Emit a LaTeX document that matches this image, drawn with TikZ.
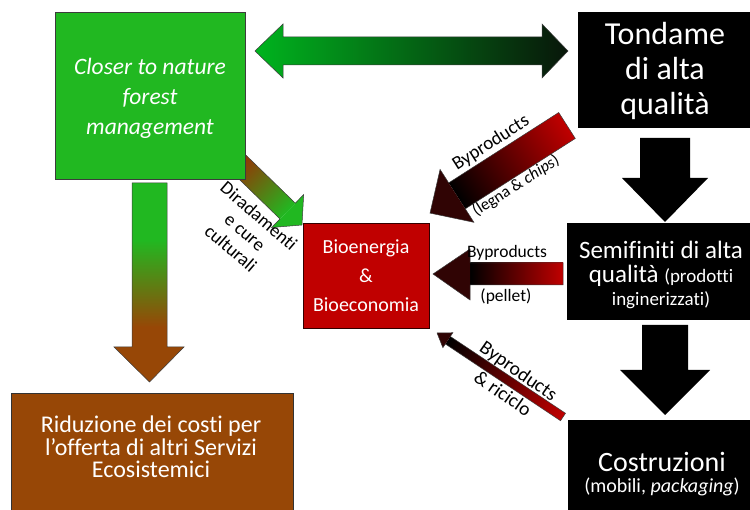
\documentclass[tikz,border=0pt]{standalone}
\usepackage{fontspec}
\setmainfont{Carlito}[Ligatures=NoCommon]
\definecolor{greenc}{RGB}{33,184,33}
\definecolor{brownc}{RGB}{151,71,6}
\definecolor{redc}{RGB}{192,0,0}
\definecolor{headred}{RGB}{48,4,4}
\definecolor{dirred}{RGB}{170,30,0}
\definecolor{dblgreen}{RGB}{0,180,30}
\definecolor{dblmid}{RGB}{0,110,10}
\definecolor{dbldark}{RGB}{8,22,10}
\definecolor{edgec}{RGB}{60,60,60}
\pgfdeclareverticalshading{greenbrown}{100bp}{color(0bp)=(brownc); color(38.8bp)=(brownc); color(60.7bp)=(greenc); color(100bp)=(greenc)}
\begin{document}
\begin{tikzpicture}[x=1pt,y=-1pt,
  boxs/.style={inner sep=0pt, outer sep=0pt, line width=0.6pt},
  wlbl/.style={inner sep=0pt, align=center, text=white},
  alabel/.style={inner sep=0pt, align=center, text=black},
  aedge/.style={draw=edgec, line width=0.5pt},
]
\useasboundingbox (0,0) rectangle (750,510);

% Diradamenti arrow (under the green box)
\coordinate (dtail) at (230,155);
\begin{scope}[transform canvas={shift={(dtail)}, rotate=-44.2}]
  \path[left color=dirred, right color=greenc] (0,-11) rectangle (80.4,11);
  \fill[greenc] (80.4,-23) -- (100.4,0) -- (80.4,23) -- cycle;
  \draw[aedge] (0,-11) -- (80.4,-11) -- (80.4,-23) -- (100.4,0) -- (80.4,23) -- (80.4,11) -- (0,11);
\end{scope}

% boxes
\node[boxs, draw=edgec, fill=greenc, minimum width=190pt, minimum height=167pt] (forest) at (150,95.5) {};
\node[boxs, fill=black, minimum width=172pt, minimum height=116pt] (tond) at (664,70) {};
\node[boxs, fill=black, minimum width=183pt, minimum height=97pt] (semi) at (658.5,271.5) {};
\node[boxs, fill=black, minimum width=182pt, minimum height=90pt] (costr) at (659,465) {};
\node[boxs, draw=black!80!red, fill=redc, minimum width=126pt, minimum height=105pt] (bio) at (366,275.5) {};
\node[boxs, draw=black!80, fill=brownc, minimum width=282pt, minimum height=117pt] (ridu) at (152,451.5) {};

% double arrow forest <-> tondame
\path[aedge, left color=dblgreen, middle color=dblmid, right color=dbldark]
  (255,51) -- (283,24) -- (283,37) -- (542,37) -- (542,24) -- (568,51)
  -- (542,78) -- (542,65) -- (283,65) -- (283,78) -- cycle;

% vertical arrow forest -> riduzione
\path[aedge, shading=greenbrown]
  (132,183) -- (167,183) -- (167,347) -- (184,347) -- (149.5,382) -- (114,347) -- (132,347) -- cycle;

% black arrows
\fill[black] (640,138) -- (690,138) -- (690,178) -- (708,178) -- (665,222) -- (622,178) -- (640,178) -- cycle;
\fill[black] (642,325) -- (688,325) -- (688,370) -- (710,370) -- (665,415) -- (620,370) -- (642,370) -- cycle;

% byproducts arrow 1 (tondame -> bio)
\coordinate (b1tail) at (567,125.5);
\begin{scope}[transform canvas={shift={(b1tail)}, rotate=212.6}]
  \path[left color=redc, right color=black] (0,-15.4) rectangle (130.6,15.4);
  \fill[headred] (130.6,-31.4) -- (162.6,0) -- (130.6,31.4) -- cycle;
  \draw[aedge] (0,-15.4) -- (130.6,-15.4) -- (130.6,-31.4) -- (162.6,0) -- (130.6,31.4) -- (130.6,15.4) -- (0,15.4) -- cycle;
\end{scope}

% byproducts arrow 2 (pellet)
\path[left color=black, right color=redc] (470,263) rectangle (563,285);
\fill[headred] (433,274) -- (470,249) -- (470,300) -- cycle;
\draw[aedge] (433,274) -- (470,249) -- (470,263) -- (563,263) -- (563,285) -- (470,285) -- (470,300) -- cycle;

% byproducts arrow 3 (riciclo)
\coordinate (b3tail) at (563,417);
\begin{scope}[transform canvas={shift={(b3tail)}, rotate=146.3}]
  \path[left color=redc, right color=black] (0,-4.5) rectangle (138.4,4.5);
  \fill[headred] (138.4,-9) -- (151.4,0) -- (138.4,9) -- cycle;
  \draw[aedge] (0,-4.5) -- (138.4,-4.5) -- (138.4,-9) -- (151.4,0) -- (138.4,9) -- (138.4,4.5) -- (0,4.5) -- cycle;
\end{scope}

% texts
\node[wlbl, font=\fontsize{23.5}{30}\selectfont\itshape] (forestt) at (150,98) {Closer to nature\\forest\\management};
\node[wlbl, font=\fontsize{32}{35}\selectfont] (tondt) at (665,71) {Tondame\\di alta\\qualità};
\node[wlbl, font=\fontsize{25}{23.5}\selectfont] (semit) at (661,275) {Semifiniti di alta\\qualità {\fontsize{19}{23.5}\selectfont (prodotti}\\{\fontsize{19}{23.5}\selectfont inginerizzati)}};
\node[wlbl, font=\fontsize{28}{20.5}\selectfont] (costrt) at (662,474) {Costruzioni\\{\fontsize{20}{20.5}\selectfont (mobili, \textit{packaging})}};
\node[wlbl, font=\fontsize{20}{29}\selectfont] (biot) at (366,276) {Bioenergia\\\&\\Bioeconomia};
\node[wlbl, font=\fontsize{24}{22.5}\selectfont] (ridut) at (151,447) {Riduzione dei costi per\\l’offerta di altri Servizi\\Ecosistemici};

\node[alabel, rotate=-40.7, font=\fontsize{18.7}{21.5}\selectfont] (dirt) at (245,232) {Diradamenti\\e cure\\culturali};
\node[alabel, rotate=32.5, font=\fontsize{19}{19}\selectfont] (b1a) at (491,143) {Byproducts};
\node[alabel, rotate=32.5, font=\fontsize{16.5}{16.5}\selectfont] (b1b) at (516,186) {(legna \& \textit{chips})};
\node[alabel, font=\fontsize{17.5}{17.5}\selectfont] (b2a) at (507,253) {Byproducts};
\node[alabel, font=\fontsize{17.5}{17.5}\selectfont] (b2b) at (506,297) {(pellet)};
\node[alabel, rotate=-34.8, font=\fontsize{19.5}{19.5}\selectfont] (b3a) at (518,372) {Byproducts};
\node[alabel, rotate=-34.8, font=\fontsize{19.5}{19.5}\selectfont] (b3b) at (503,393) {\& riciclo};
\end{tikzpicture}
\end{document}
